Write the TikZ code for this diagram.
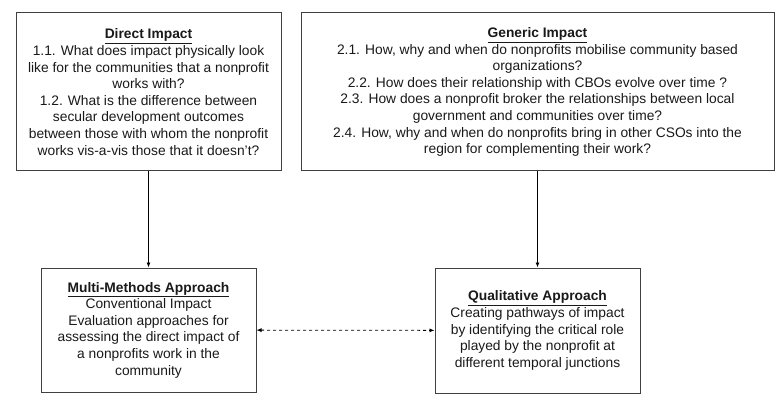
\documentclass[tikz,border=0pt]{standalone}
\usepackage{fontspec}
\setmainfont{Liberation Sans}
\usetikzlibrary{arrows.meta}
\begin{document}
\begin{tikzpicture}[x=1pt, y=-1pt,
					impactbox/.style = {draw=black!75, line width=1pt, align=center, inner sep=0pt,
						font=\fontsize{13.8}{16.6}\selectfont, text=black!90},
					arrow/.style = {-{Latex[length=5pt,width=4pt]}, line width=0.8pt}
				]
				\newcommand{\boxhead}[1]{\underline{\textbf{#1}}}
				\path (0,0) rectangle (782,401);
				\node[impactbox, minimum width=265pt, minimum height=158pt] (direct) at (148.5,92)
					{\boxhead{Direct Impact}\\
					1.1. What does impact physically look\\ like for the communities that a nonprofit\\ works with?\\
					1.2. What is the difference between\\ secular development outcomes\\ between those with whom the nonprofit\\ works vis-a-vis those that it doesn't?};
				\node[impactbox, minimum width=473pt, minimum height=158pt] (generic) at (537.5,92)
					{\boxhead{Generic Impact}\\
					2.1. How, why and when do nonprofits mobilise community based\\ organizations?\\
					2.2. How does their relationship with CBOs evolve over time ?\\
					2.3. How does a nonprofit broker the relationships between local\\ government and communities over time?\\
					2.4. How, why and when do nonprofits bring in other CSOs into the\\ region for complementing their work?};
				\node[impactbox, minimum width=215pt, minimum height=124pt] (multi) at (148.5,330)
					{\boxhead{Multi-Methods Approach}\\
					Conventional Impact\\ Evaluation approaches for\\ assessing the direct impact of\\ a nonprofits work in the\\ community};
				\node[impactbox, minimum width=205pt, minimum height=125pt] (quali) at (537.5,330.5)
					{\boxhead{Qualitative Approach}\\
					Creating pathways of impact\\ by identifying the critical role\\ played by the nonprofit at\\ different temporal junctions};
				\draw[arrow] (direct) -- (multi);
				\draw[arrow] (generic) -- (quali);
				\draw[arrow, {Latex[length=5pt,width=4pt]}-{Latex[length=5pt,width=4pt]}, dashed] (multi) -- (quali);
			\end{tikzpicture}
\end{document}
